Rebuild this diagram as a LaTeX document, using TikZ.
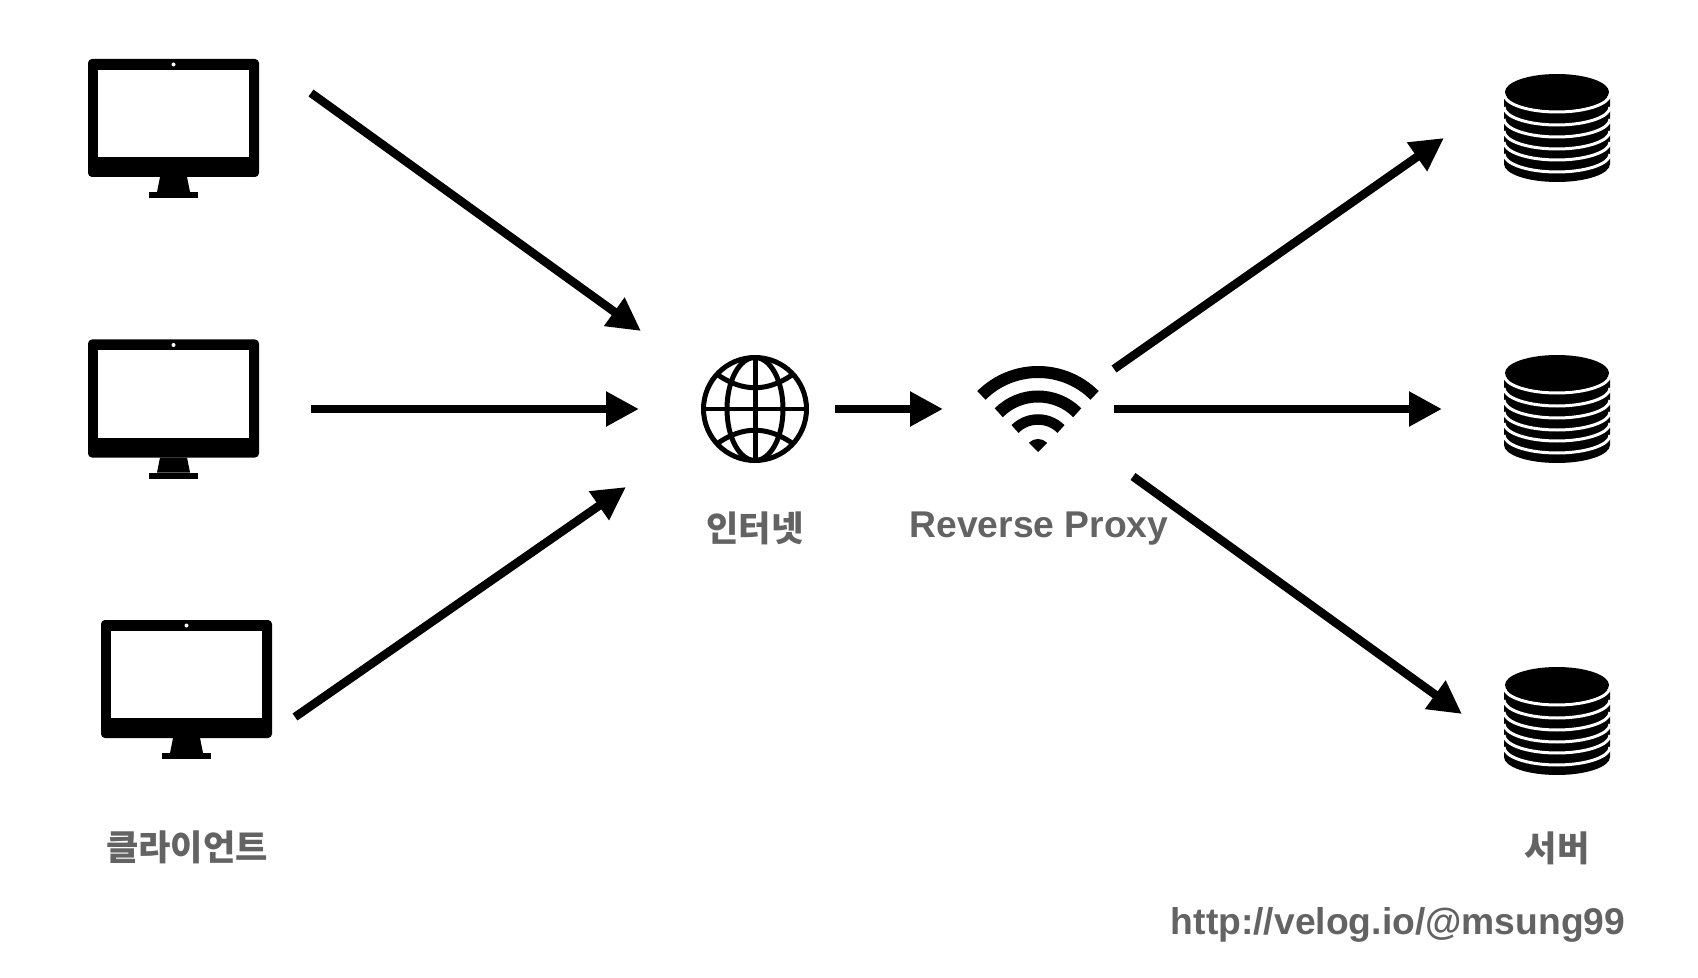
\documentclass[tikz,border=0pt]{standalone}
\usepackage{fontspec}
\setmainfont{Liberation Sans}
\newfontfamily\krfont{Noto Sans CJK KR}
\usetikzlibrary{arrows.meta, calc}
\definecolor{labelgray}{HTML}{636363}

\begin{document}
\begin{tikzpicture}[
    x=0.1mm, y=-0.1mm,
    label/.style={font=\bfseries\fontsize{10.6}{12}\selectfont, text=labelgray, inner sep=0pt},
    krlabel/.style={font=\krfont\bfseries\fontsize{10}{12}\selectfont, text=labelgray, inner sep=0pt},
    arrow/.style={-{Triangle[length=3.3mm, width=3.3mm]}, line width=0.85mm},
    monitor/.pic={
        \fill[black, rounded corners=0.4mm] (0,0) rectangle (171,118);
        \fill[white] (10,11) rectangle (161,98);
        \fill[white] (85.5,5.5) circle (2);
        \fill[black] (72,118) -- (99,118) -- (102,133) -- (69,133) -- cycle;
        \fill[black] (61,133) rectangle (110,139);
    },
    database/.pic={
        \fill[black] (-53,5) -- (53,5) -- (53,72) arc (0:180:53 and 18) -- cycle;
        \foreach \layer in {2,15,27,39,50,62} {
            \draw[white, line width=0.3mm] (53,\layer) arc (0:180:53 and 18);
        }
        \fill[black] (0,0) ellipse (52 and 18);
    }
]
\useasboundingbox (0,0) rectangle (1698,978);

\pic at (88,59) {monitor};
\pic at (88,339.5) {monitor};
\pic at (101,620) {monitor};

% globe
\coordinate (globe) at (755,409);
\begin{scope}[line width=0.5mm]
    \draw (globe) circle (51.5);
    \draw (globe) ellipse (28 and 51.5);
    \draw ($(globe)+(0,-51)$) -- ($(globe)+(0,51)$);
    \draw ($(globe)+(-51,0)$) -- ($(globe)+(51,0)$);
    \draw ($(globe)+(-37,-34)$) .. controls ($(globe)+(-12,-17)$) and ($(globe)+(12,-17)$) .. ($(globe)+(37,-34)$);
    \draw ($(globe)+(-37,34)$) .. controls ($(globe)+(-12,17)$) and ($(globe)+(12,17)$) .. ($(globe)+(37,34)$);
\end{scope}

% wifi
\coordinate (wifi) at (1038,452);
\draw[line width=1.2mm] ($(wifi)+(225:80)$) arc (225:315:80);
\draw[line width=1.2mm] ($(wifi)+(225:55.5)$) arc (225:315:55.5);
\draw[line width=1.05mm] ($(wifi)+(225:32.5)$) arc (225:315:32.5);
\fill (wifi) -- ($(wifi)+(225:13)$) arc (225:315:13) -- cycle;

\pic at (1557,92) {database};
\pic at (1557,373) {database};
\pic at (1557,685) {database};

\node[krlabel] (clientlabel) at (187,847) {클라이언트};
\node[krlabel] (netlabel) at (755,528) {인터넷};
\node[label] (proxylabel) at (1039,529) {Reverse Proxy};
\node[krlabel] (serverlabel) at (1557,848) {서버};
\node[label, anchor=east] (urllabel) at (1626,925) {http://velog.io/@msung99};

\coordinate (client1) at (311,93);
\coordinate (client2) at (311,409);
\coordinate (client3) at (295,717);
\coordinate (netin1) at (641,331);
\coordinate (netin2) at (639,409);
\coordinate (netin3) at (626,487);
\coordinate (netout) at (835,409);
\coordinate (proxyin) at (943,409);
\coordinate (proxyout1) at (1114,369);
\coordinate (proxyout2) at (1114,409);
\coordinate (proxyout3) at (1133,476.5);
\coordinate (server1) at (1444,138);
\coordinate (server2) at (1442,409);
\coordinate (server3) at (1462,714);

\draw[arrow] (client1) -- (netin1);
\draw[arrow] (client2) -- (netin2);
\draw[arrow] (client3) -- (netin3);
\draw[arrow] (netout) -- (proxyin);
\draw[arrow] (proxyout1) -- (server1);
\draw[arrow] (proxyout2) -- (server2);
\draw[arrow] (proxyout3) -- (server3);

\end{tikzpicture}
\end{document}
